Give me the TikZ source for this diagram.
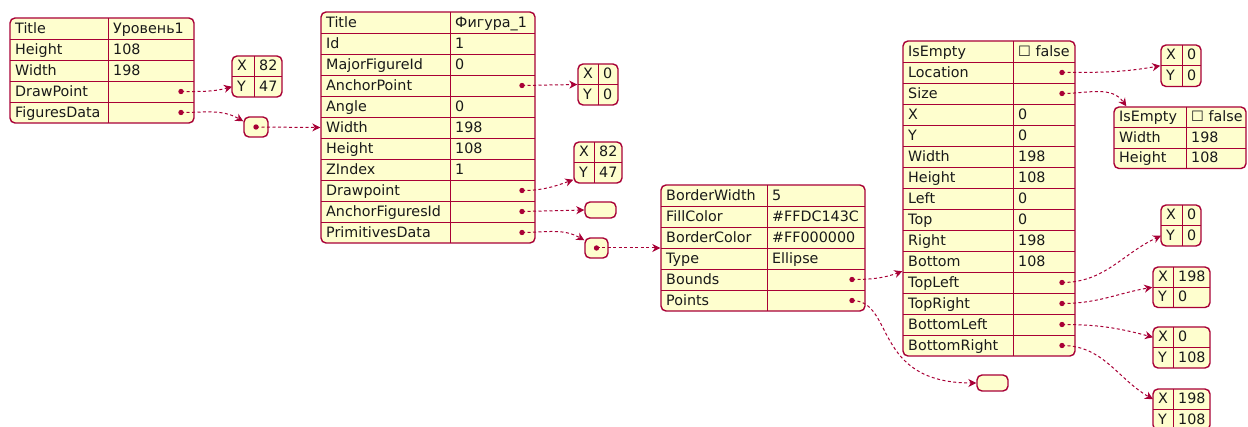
\documentclass[tikz,border=0pt]{standalone}
\usepackage{fontspec}
\setmainfont{DejaVu Sans}
\usetikzlibrary{arrows.meta,fit}
\definecolor{jfill}{HTML}{FEFECE}
\definecolor{jline}{HTML}{A80036}

\tikzset{
  frame/.style={draw=jline, fill=jfill, line width=1.4pt, rounded corners=5pt, inner sep=0pt},
  sep/.style={draw=jline, line width=0.9pt},
  cell/.style={anchor=base west, inner sep=0pt, font=\fontsize{14.3}{17}\selectfont, text=black!90},
  ptr/.style={fill=jline},
  link/.style={draw=jline, line width=1pt, dash pattern=on 3pt off 2.5pt,
    -{Stealth[length=8pt,width=8pt,inset=2.5pt]}},
}

% #1 name, #2 left, #3 top, #4 right, #5 divider x, #6 row height, #7 key/value rows
\newcommand{\jtable}[7]{%
  \gdef\jrows{0}%
  \foreach \k/\v in {#7} {\xdef\jrows{\the\numexpr\jrows+1\relax}}%
  \node[frame, fit={(#2,#3) (#4,#3+#6*\jrows)}] (#1) {};
  \draw[sep] (#5,#3) -- (#5,#3+#6*\jrows);
  \foreach \k/\v [count=\i] in {#7} {
    \ifnum\i>1 \draw[sep] (#2,#3+#6*\i-#6) -- (#4,#3+#6*\i-#6); \fi
    \node[cell] (#1-k\i) at (#2+5,#3+#6*\i-#6+#6*0.72) {\k};
    \node[cell] (#1-v\i) at (#5+5,#3+#6*\i-#6+#6*0.72) {\v};
    \coordinate (#1-\i) at (#4-13,#3+#6*\i-#6*0.5);
    \coordinate (#1-\i-w) at (#2,#3+#6*\i-#6*0.5);
  }%
}
\newcommand{\jdot}[1]{\fill[ptr] (#1) circle (2.7pt);}

\begin{document}
\begin{tikzpicture}[x=1pt,y=-1pt]
\useasboundingbox (0,0) rectangle (1248,427);

% level
\jtable{root}{10}{18}{194}{108}{21}{Title/Уровень1, Height/108, Width/198, DrawPoint/{}, FiguresData/{}}
\jdot{root-4}\jdot{root-5}
\jtable{pa}{232}{56}{282}{254}{20.5}{X/82, Y/47}
\node[frame, fit={(244,117) (268,137)}] (arr1) {};
\jdot{arr1.center}

% figure
\jtable{fig}{321}{12}{535}{450}{21}{Title/Фигура\_1, Id/1, MajorFigureId/0, AnchorPoint/{}, Angle/0, Width/198, Height/108, ZIndex/1, Drawpoint/{}, AnchorFiguresId/{}, PrimitivesData/{}}
\jdot{fig-4}\jdot{fig-9}\jdot{fig-10}\jdot{fig-11}
\jtable{pb}{578}{64}{618}{598}{20.5}{X/0, Y/0}
\jtable{pc}{574}{142}{622}{594}{20.5}{X/82, Y/47}
\node[frame, fit={(585,202) (616,218)}] (emp1) {};
\node[frame, fit={(585,238) (608,258)}] (arr2) {};
\jdot{arr2.center}

% primitive
\jtable{prim}{661}{185}{865}{767}{21}{BorderWidth/5, FillColor/\#FFDC143C, BorderColor/\#FF000000, Type/Ellipse, Bounds/{}, Points/{}}
\jdot{prim-5}\jdot{prim-6}
\node[frame, fit={(977,375) (1008,391)}] (emp2) {};

% bounds
\jtable{bnd}{903}{41}{1075}{1013}{21}{IsEmpty/☐ false, Location/{}, Size/{}, X/0, Y/0, Width/198, Height/108, Left/0, Top/0, Right/198, Bottom/108, TopLeft/{}, TopRight/{}, BottomLeft/{}, BottomRight/{}}
\jdot{bnd-2}\jdot{bnd-3}\jdot{bnd-12}\jdot{bnd-13}\jdot{bnd-14}\jdot{bnd-15}
\jtable{pd}{1161}{45}{1201}{1182}{20.75}{X/0, Y/0}
\jtable{sz}{1114}{107}{1246}{1186}{20.5}{IsEmpty/☐ false, Width/198, Height/108}
\jtable{pe}{1161}{205}{1201}{1182}{20.5}{X/0, Y/0}
\jtable{pf}{1153}{267}{1210}{1173}{20.25}{X/198, Y/0}
\jtable{pg}{1153}{327}{1210}{1173}{20.5}{X/0, Y/108}
\jtable{ph}{1153}{389}{1210}{1173}{20.5}{X/198, Y/108}

% links
\draw[link] (root-4) to[out=0,in=195] (pa-2-w);
\draw[link] (root-5) to[out=0,in=150] ([yshift=-5pt]arr1.north west);
\draw[link] (arr1.center) -- (fig.west);
\draw[link] (fig-4) -- (pb.west);
\draw[link] (fig-9) to[out=0,in=200] ([yshift=4pt]pc.south west);
\draw[link] (fig-10) -- (emp1.west);
\draw[link] (fig-11) to[out=0,in=150] ([yshift=-3pt]arr2.north west);
\draw[link] (arr2.center) -- (prim.west);
\draw[link] (prim-5) to[out=0,in=200] ([yshift=-231pt]bnd.north west);
\draw[link] (prim-6) .. controls (895,301) and (872,383) .. (emp2.west);
\draw[link] (bnd-2) to[out=0,in=190] (pd.west);
\draw[link] (bnd-3) to[out=0,in=125] ([xshift=13pt]sz.north west);
\draw[link] (bnd-12) to[out=0,in=205] (pe-2-w);
\draw[link] (bnd-13) to[out=0,in=190] (pf.west);
\draw[link] (bnd-14) to[out=0,in=165] (pg-1-w);
\draw[link] (bnd-15) to[out=0,in=150] (ph-1-w);
\end{tikzpicture}
\end{document}
